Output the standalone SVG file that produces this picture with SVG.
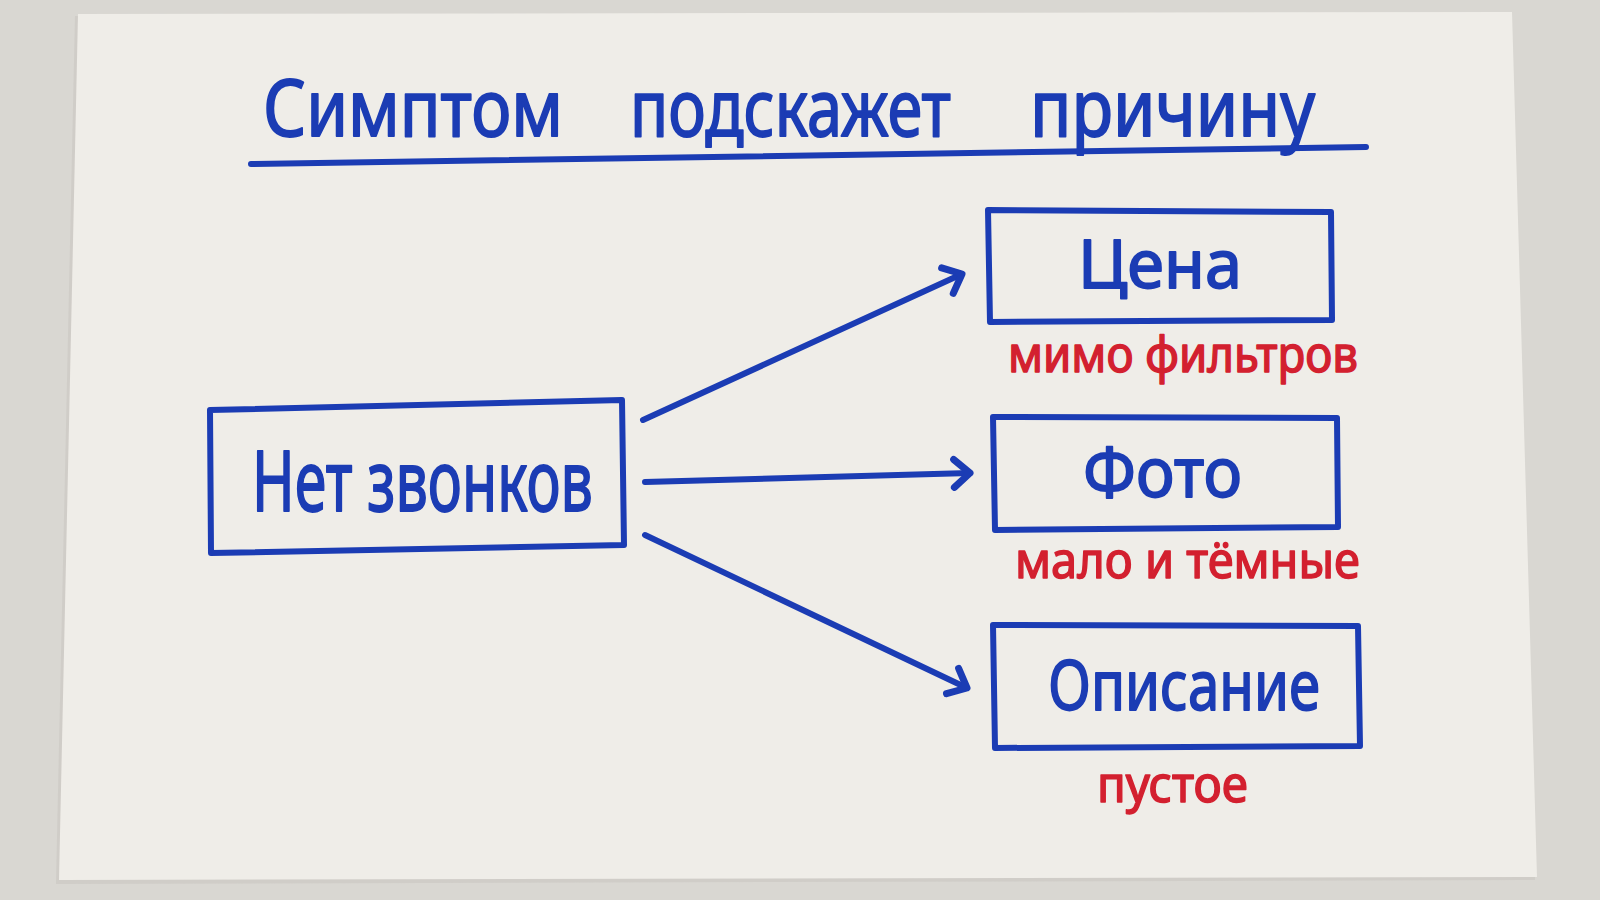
<svg xmlns="http://www.w3.org/2000/svg" width="1600" height="900" viewBox="0 0 1600 900">
  <style>
    .ink { fill: none; stroke: #1b3cb4; stroke-width: 6; stroke-linecap: round; stroke-linejoin: round; }
    .box { fill: none; stroke: #1b3cb4; stroke-width: 6; stroke-linejoin: round; }
    .blue { fill: #1b3cb4; stroke: #1b3cb4; stroke-width: 1.8; stroke-linejoin: round; font-family: "Noto Sans", "Open Sans", sans-serif; font-weight: 400; }
    .red { fill: #d3202f; stroke: #d3202f; stroke-width: 1.5; stroke-linejoin: round; font-family: "Noto Sans", "Open Sans", sans-serif; font-weight: 400; font-size: 50px; }
  </style>
  <defs>
    <marker id="chev" viewBox="-22 -18 28 36" refX="0" refY="0" markerWidth="28" markerHeight="36" markerUnits="userSpaceOnUse" orient="auto">
      <path d="M-16,-14 L0,0 L-16,14" fill="none" stroke="#1b3cb4" stroke-width="7" stroke-linecap="round" stroke-linejoin="round"/>
    </marker>
  </defs>

  <rect x="0" y="0" width="1600" height="900" fill="#d9d7d2"/>
  <polygon points="75,16 1510,14 1535,880 56,884" fill="#c9c7c1" opacity="0.6"/>
  <polygon points="78,14 1512,12 1537,877 59,880" fill="#efede8"/>

  <g id="title">
    <text class="blue" x="263" y="136" font-size="78" textLength="300" lengthAdjust="spacingAndGlyphs">Симптом</text>
    <text class="blue" x="630" y="136" font-size="78" textLength="321" lengthAdjust="spacingAndGlyphs">подскажет</text>
    <text class="blue" x="1030" y="136" font-size="78" textLength="285" lengthAdjust="spacingAndGlyphs">причину</text>
    <path class="ink" d="M251,164 L1366,147" stroke-width="6"/>
  </g>

  <g id="connectors">
    <path class="ink" d="M643,420 L962,274" marker-end="url(#chev)"/>
    <path class="ink" d="M645,482 L970,473" marker-end="url(#chev)"/>
    <path class="ink" d="M645,535 Q800,608 967,688" marker-end="url(#chev)"/>
  </g>

  <g id="node-no-calls">
    <polygon class="box" points="210,410 622,400 624,545 211,553"/>
    <text class="blue" x="252" y="511" font-size="84" textLength="341" lengthAdjust="spacingAndGlyphs">Нет звонков</text>
  </g>

  <g id="node-price">
    <polygon class="box" points="988,210 1331,212 1332,320 990,322"/>
    <text class="blue" x="1078" y="288" font-size="68" textLength="164" lengthAdjust="spacingAndGlyphs">Цена</text>
    <text class="red" x="1008" y="372" textLength="350" lengthAdjust="spacingAndGlyphs">мимо фильтров</text>
  </g>

  <g id="node-photo">
    <polygon class="box" points="993,417 1337,418 1338,527 995,530"/>
    <text class="blue" x="1083" y="497" font-size="70" textLength="159" lengthAdjust="spacingAndGlyphs">Фото</text>
    <text class="red" x="1015" y="578" textLength="345" lengthAdjust="spacingAndGlyphs">мало и тёмные</text>
  </g>

  <g id="node-description">
    <polygon class="box" points="993,625 1358,626 1360,746 995,748"/>
    <text class="blue" x="1048" y="710" font-size="70" textLength="272" lengthAdjust="spacingAndGlyphs">Описание</text>
    <text class="red" x="1097" y="802" textLength="151" lengthAdjust="spacingAndGlyphs">пустое</text>
  </g>
</svg>
